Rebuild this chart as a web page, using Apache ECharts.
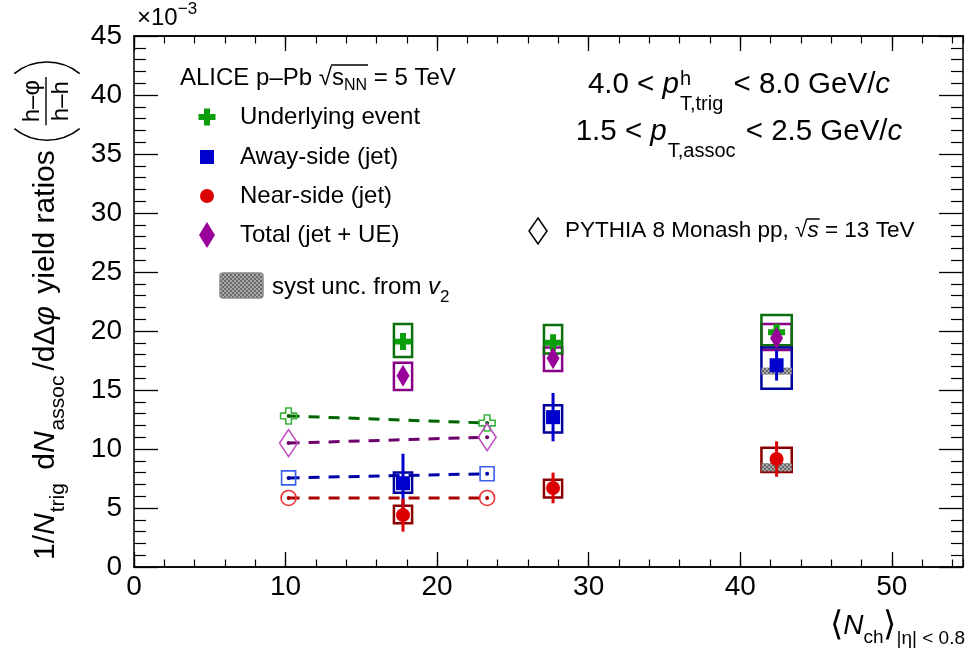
<!DOCTYPE html>
<html>
<head>
<meta charset="utf-8">
<title>h-phi / h-h yield ratios vs multiplicity</title>
<script src="https://cdn.jsdelivr.net/npm/echarts@6.0.0/dist/echarts.min.js"></script>
<style>
  html, body { margin: 0; padding: 0; background: #fff; }
  #main { width: 968px; height: 653px; }
</style>
</head>
<body>
<div id="main"></div>
<script>
// multiplicity classes, <Nch> in |eta| < 0.8
var nch = [17.75, 27.65, 42.4];
var boxHalf = [0.6, 0.6, 1.0];   // half width of the syst boxes (in Nch units)

// underlying event
var ueVal = [19.1, 19.0, 19.9];
var ueStat = [0.5, 0.5, 0.5];
var ueSysLo = [17.8, 18.1, 18.8];
var ueSysHi = [20.6, 20.5, 21.35];

// away-side (jet)
var awayVal = [7.1, 12.7, 17.1];
var awayStat = [2.5, 2.05, 1.3];
var awaySysLo = [6.3, 11.4, 15.1];
var awaySysHi = [8.0, 13.7, 18.6];

// near-side (jet)
var nearVal = [4.4, 6.7, 9.15];
var nearStat = [1.4, 1.3, 1.5];
var nearSysLo = [3.7, 5.9, 8.05];
var nearSysHi = [5.2, 7.4, 10.1];

// total (jet + UE)
var totVal = [16.2, 17.7, 19.4];
var totStat = [0.4, 0.4, 0.4];
var totSysLo = [15.0, 16.6, 18.4];
var totSysHi = [17.3, 18.6, 20.6];

// syst unc. from v2 (only highest class, away + near)
var v2X = [42.4, 42.4];
var v2Lo = [16.3, 8.1];
var v2Hi = [16.9, 8.8];
var v2Half = [1.0, 1.0];

// PYTHIA 8 Monash pp 13 TeV
var pyX = [10.2, 23.3];
var pyUE = [12.8, 12.2];
var pyTot = [10.5, 11.0];
var pyAway = [7.55, 7.9];
var pyNear = [5.85, 5.85];

// axes
var xTicks = [0, 10, 20, 30, 40, 50];
var xMax = 54.7;
var yTicks = [0, 5, 10, 15, 20, 25, 30, 35, 40, 45];

var FONT = '"Liberation Sans", Arial, Helvetica, sans-serif';
var C = {
  ue: '#0a9f0a', ueBox: '#0b700b', uePy: '#3cb33c', ueLine: '#006400',
  away: '#0000cc', awayBox: '#00009a', awayPy: '#3a5ff0', awayLine: '#0000a8',
  near: '#dd0000', nearBox: '#8b0000', nearPy: '#ee3030', nearLine: '#a80000',
  tot: '#990099', totBox: '#880088', totPy: '#c04cc0', totLine: '#6e006e'
};
var CROSS = 'path://M6.5,0H13.5V6.5H20V13.5H13.5V20H6.5V13.5H0V6.5H6.5Z';

// grey dotted fill like the ROOT hatch
var pc = document.createElement('canvas');
pc.width = 4; pc.height = 4;
var pg = pc.getContext('2d');
pg.fillStyle = '#a8a8a8'; pg.fillRect(0, 0, 4, 4);
pg.fillStyle = '#6a6a6a'; pg.fillRect(0, 0, 2, 2); pg.fillRect(2, 2, 2, 2);
var GREY = { type: 'pattern', image: pc, repeat: 'repeat' };

function pts(xs, ys) { return xs.map(function (x, i) { return [x, ys[i]]; }); }
function rows(xs, a, b, c) { return xs.map(function (x, i) { return [x, a[i], b[i], c[i]]; }); }

function boxSeries(data, stroke, fill, z) {
  return {
    type: 'custom', silent: true, z: z, data: data,
    encode: { x: 0, y: [1, 2] },
    renderItem: function (params, api) {
      var x = api.value(0), hw = api.value(3);
      var p = api.coord([x - hw, api.value(2)]);
      var q = api.coord([x + hw, api.value(1)]);
      return {
        type: 'rect',
        shape: { x: p[0], y: p[1], width: q[0] - p[0], height: q[1] - p[1] },
        style: { fill: fill || 'none', stroke: stroke || 'none', lineWidth: 2.5 }
      };
    }
  };
}

function errSeries(xs, val, err, color) {
  return {
    type: 'custom', silent: true, z: 5,
    data: xs.map(function (x, i) { return [x, val[i] - err[i], val[i] + err[i]]; }),
    encode: { x: 0, y: [1, 2] },
    renderItem: function (params, api) {
      var p = api.coord([api.value(0), api.value(1)]);
      var q = api.coord([api.value(0), api.value(2)]);
      return { type: 'line', shape: { x1: p[0], y1: p[1], x2: q[0], y2: q[1] },
        style: { stroke: color, lineWidth: 3 } };
    }
  };
}

function markSeries(name, data, symbol, size, color, z, open) {
  return {
    type: 'scatter', name: name, data: data, symbol: symbol, symbolSize: size, z: z, silent: true,
    itemStyle: open ? { color: 'rgba(0,0,0,0)', borderColor: color, borderWidth: 1.6, opacity: 1 }
                    : { color: color, opacity: 1 }
  };
}

function dashSeries(data, color) {
  return {
    type: 'line', data: data, z: 2, silent: true, symbol: 'circle', symbolSize: 4, showSymbol: true,
    itemStyle: { color: color }, lineStyle: { color: color, width: 3, type: [11, 9] }
  };
}

// ---- text helpers (ROOT-like latex pieces) ----
var mctx = document.createElement('canvas').getContext('2d');
function textW(t, size, italic) {
  mctx.font = (italic ? 'italic ' : '') + size + 'px ' + FONT;
  return mctx.measureText(t).width;
}
function txt(t, x, y, size, italic) {
  return {
    type: 'text', x: x, y: y, silent: true,
    style: { text: t, fontSize: size, fontStyle: italic ? 'italic' : 'normal', fontFamily: FONT, fill: '#000',
      textAlign: 'left', textVerticalAlign: 'middle', align: 'left', verticalAlign: 'middle' }
  };
}
function latex(pieces, x0, y0, base, anchor) {
  var w = pieces.map(function (p) { return textW(p.t, p.s || base, p.i); });
  var total = 0;
  pieces.forEach(function (p, k) { total += (p.pre || 0) + (p.stay ? 0 : w[k]); });
  var x = anchor === 'right' ? x0 - total : anchor === 'center' ? x0 - total / 2 : x0;
  var els = [], xs = [];
  pieces.forEach(function (p, k) {
    x += p.pre || 0;
    xs.push([x, x + w[k]]);
    els.push(txt(p.t, x, y0 + (p.dy || 0), p.s || base, p.i));
    if (!p.stay) x += w[k];
  });
  return { els: els, xs: xs, end: x };
}
function hline(x1, x2, y, w) {
  return { type: 'line', silent: true, shape: { x1: x1, y1: y, x2: x2, y2: y }, style: { stroke: '#000', lineWidth: w || 1.5 } };
}

var gfx = [];

// x10^-3
gfx = gfx.concat(latex([{ t: '\u00D710' }, { t: '\u22123', s: 17, dy: -9 }], 137, 18, 24).els);

// ALICE label
var alice = latex([{ t: 'ALICE p\u2013Pb ' }, { t: '\u221A' }, { t: 's' }, { t: 'NN', s: 16, dy: 8 }, { t: ' = 5 TeV' }], 180, 78, 24);
gfx = gfx.concat(alice.els);
gfx.push(hline(alice.xs[1][1] - 1, alice.xs[3][1] + 1, 65));

// legend
var legY = [117, 157, 196, 235], legX = 207;
function crossPts(cx, cy, s, t) {
  var a = s / 2, b = t / 2;
  return [[cx - b, cy - a], [cx + b, cy - a], [cx + b, cy - b], [cx + a, cy - b], [cx + a, cy + b], [cx + b, cy + b],
          [cx + b, cy + a], [cx - b, cy + a], [cx - b, cy + b], [cx - a, cy + b], [cx - a, cy - b], [cx - b, cy - b]];
}
gfx.push({ type: 'polygon', silent: true, shape: { points: crossPts(legX, legY[0], 17, 6) }, style: { fill: C.ue } });
gfx.push({ type: 'rect', silent: true, shape: { x: legX - 7, y: legY[1] - 7, width: 14, height: 14 }, style: { fill: C.away } });
gfx.push({ type: 'circle', silent: true, shape: { cx: legX, cy: legY[2], r: 7 }, style: { fill: C.near } });
gfx.push({ type: 'polygon', silent: true, shape: { points: [[legX, legY[3] - 13], [legX + 8, legY[3]], [legX, legY[3] + 13], [legX - 8, legY[3]]] }, style: { fill: C.tot } });
['Underlying event', 'Away-side (jet)', 'Near-side (jet)', 'Total (jet + UE)'].forEach(function (t, k) {
  gfx.push(txt(t, 240, legY[k], 24));
});

// syst from v2 legend
gfx.push({ type: 'rect', silent: true, shape: { x: 220, y: 273, width: 43, height: 25, r: 3 }, style: { fill: GREY, stroke: '#8a8a8a', lineWidth: 1.5 } });
gfx = gfx.concat(latex([{ t: 'syst unc. from ' }, { t: 'v', i: 1 }, { t: '2', s: 17, dy: 10 }], 272, 287, 24).els);

// pT ranges
gfx = gfx.concat(latex([{ t: '4.0 < ' }, { t: 'p', i: 1 }, { t: 'h', s: 20, dy: -6, pre: 1, stay: 1 }, { t: 'T,trig', s: 20, dy: 19 },
  { t: ' < 8.0 GeV/', pre: 2 }, { t: 'c', i: 1 }], 739, 85, 29.5, 'center').els);
gfx = gfx.concat(latex([{ t: '1.5 < ' }, { t: 'p', i: 1 }, { t: 'T,assoc', s: 20, dy: 19, pre: 1 },
  { t: ' < 2.5 GeV/', pre: 2 }, { t: 'c', i: 1 }], 739, 132, 29.5, 'center').els);

// PYTHIA legend
gfx.push({ type: 'polygon', silent: true, shape: { points: [[538, 218], [547, 231], [538, 244], [529, 231]] }, style: { fill: 'none', stroke: '#000', lineWidth: 1.5 } });
var py = latex([{ t: 'PYTHIA 8 Monash pp, ' }, { t: '\u221A' }, { t: 's', i: 1 }, { t: ' = 13 TeV' }], 565, 231, 22.5);
gfx = gfx.concat(py.els);
gfx.push(hline(py.xs[1][1] - 1, py.xs[2][1] + 1, 219));

// x-axis title
gfx = gfx.concat(latex([{ t: '\u27E8', s: 34 }, { t: 'N', i: 1 }, { t: 'ch', s: 19, dy: 12 }, { t: '\u27E9', s: 34 },
  { t: '|\u03B7| < 0.8', s: 19, dy: 13 }], 965, 626, 28, 'right').els);

// y-axis title, rotated group (local x runs upward on screen)
var yt = latex([{ t: '1/' }, { t: 'N', i: 1 }, { t: 'trig', s: 21, dy: 12, pre: 1 }, { t: ' d', pre: 5 }, { t: 'N', i: 1 },
  { t: 'assoc', s: 21, dy: 12, pre: 1 }, { t: '/d', pre: 5 }, { t: '\u0394' }, { t: '\u03C6', i: 1 }, { t: ' yield ratios', pre: 4 }], 0, 0, 30);
var fx = yt.end + 10, R = 52, A = 0.68;
var wn = textW('h\u2013\u03C6', 24), wd = textW('h\u2013h', 24), fw = Math.max(wn, wd) + 6;
var fs = fx + 15;
var ytChildren = yt.els.concat([
  { type: 'arc', silent: true, shape: { cx: fx + R, cy: 1, r: R, startAngle: Math.PI - A, endAngle: Math.PI + A, clockwise: true }, style: { fill: 'none', stroke: '#000', lineWidth: 1.5 } },
  txt('h\u2013\u03C6', fs + (fw - wn) / 2, -14, 24),
  hline(fs, fs + fw, 0, 1.4),
  txt('h\u2013h', fs + (fw - wd) / 2, 15, 24),
  { type: 'arc', silent: true, shape: { cx: fs + fw + 15 - R, cy: 1, r: R, startAngle: -A, endAngle: A, clockwise: true }, style: { fill: 'none', stroke: '#000', lineWidth: 1.5 } }
]);
gfx.push({ type: 'group', x: 46, y: 560, rotation: Math.PI / 2, children: ytChildren });

// ---- axes ----
var axisLine = { onZero: false, lineStyle: { color: '#000', width: 1.5 } };
function xAxisDef(pos, major) {
  return {
    type: 'value', position: pos, min: xTicks[0], max: xMax,
    interval: major ? 10 : 2,
    axisLine: axisLine,
    axisTick: major ? { inside: true, length: 15, customValues: xTicks, lineStyle: { color: '#000', width: 1.3 } }
                    : { inside: true, length: 7.5, lineStyle: { color: '#000', width: 1.2 } },
    axisLabel: (major && pos === 'bottom') ? { show: true, customValues: xTicks, fontSize: 28, color: '#000', fontFamily: FONT, margin: 6 } : { show: false },
    splitLine: { show: false }
  };
}
function yAxisDef(pos) {
  return {
    type: 'value', position: pos, min: yTicks[0], max: yTicks[yTicks.length - 1], interval: 5,
    axisLine: axisLine,
    axisTick: { inside: true, length: 24, lineStyle: { color: '#000', width: 1.3 } },
    minorTick: { show: true, splitNumber: 5, length: 12, lineStyle: { color: '#000', width: 1.2 } },
    axisLabel: pos === 'left' ? { show: true, fontSize: 28, color: '#000', fontFamily: FONT, margin: 12 } : { show: false },
    splitLine: { show: false }, minorSplitLine: { show: false }
  };
}

var chart = echarts.init(document.getElementById('main'));
chart.setOption({
  animation: false,
  backgroundColor: '#fff',
  grid: { left: 134, right: 5, top: 36, bottom: 86, containLabel: false },
  xAxis: [xAxisDef('bottom', true), xAxisDef('top', true), xAxisDef('bottom', false), xAxisDef('top', false)],
  yAxis: [yAxisDef('left'), yAxisDef('right')],
  graphic: { elements: gfx },
  series: [
    // PYTHIA
    dashSeries(pts(pyX, pyUE), C.ueLine),
    dashSeries(pts(pyX, pyTot), C.totLine),
    dashSeries(pts(pyX, pyAway), C.awayLine),
    dashSeries(pts(pyX, pyNear), C.nearLine),
    markSeries('PYTHIA UE', pts(pyX, pyUE), CROSS, 16, C.uePy, 2, true),
    markSeries('PYTHIA total', pts(pyX, pyTot), 'diamond', [18, 27], C.totPy, 2, true),
    markSeries('PYTHIA away', pts(pyX, pyAway), 'rect', 14, C.awayPy, 2, true),
    markSeries('PYTHIA near', pts(pyX, pyNear), 'circle', 15, C.nearPy, 2, true),
    // syst boxes
    boxSeries(rows(nch, totSysLo, totSysHi, boxHalf), C.totBox, null, 3),
    boxSeries(rows(nch, ueSysLo, ueSysHi, boxHalf), C.ueBox, null, 3),
    boxSeries(rows(nch, awaySysLo, awaySysHi, boxHalf), C.awayBox, null, 3),
    boxSeries(rows(nch, nearSysLo, nearSysHi, boxHalf), C.nearBox, null, 3),
    boxSeries(rows(v2X, v2Lo, v2Hi, v2Half), null, GREY, 4),
    // stat errors
    errSeries(nch, ueVal, ueStat, C.ue),
    errSeries(nch, totVal, totStat, C.tot),
    errSeries(nch, awayVal, awayStat, C.away),
    errSeries(nch, nearVal, nearStat, C.near),
    // data points
    markSeries('Underlying event', pts(nch, ueVal), CROSS, 17, C.ue, 6),
    markSeries('Total (jet + UE)', pts(nch, totVal), 'diamond', [13, 22], C.tot, 6),
    markSeries('Away-side (jet)', pts(nch, awayVal), 'rect', 14, C.away, 6),
    markSeries('Near-side (jet)', pts(nch, nearVal), 'circle', 14, C.near, 6)
  ]
});
window.addEventListener('resize', function () { chart.resize(); });
</script>
</body>
</html>
